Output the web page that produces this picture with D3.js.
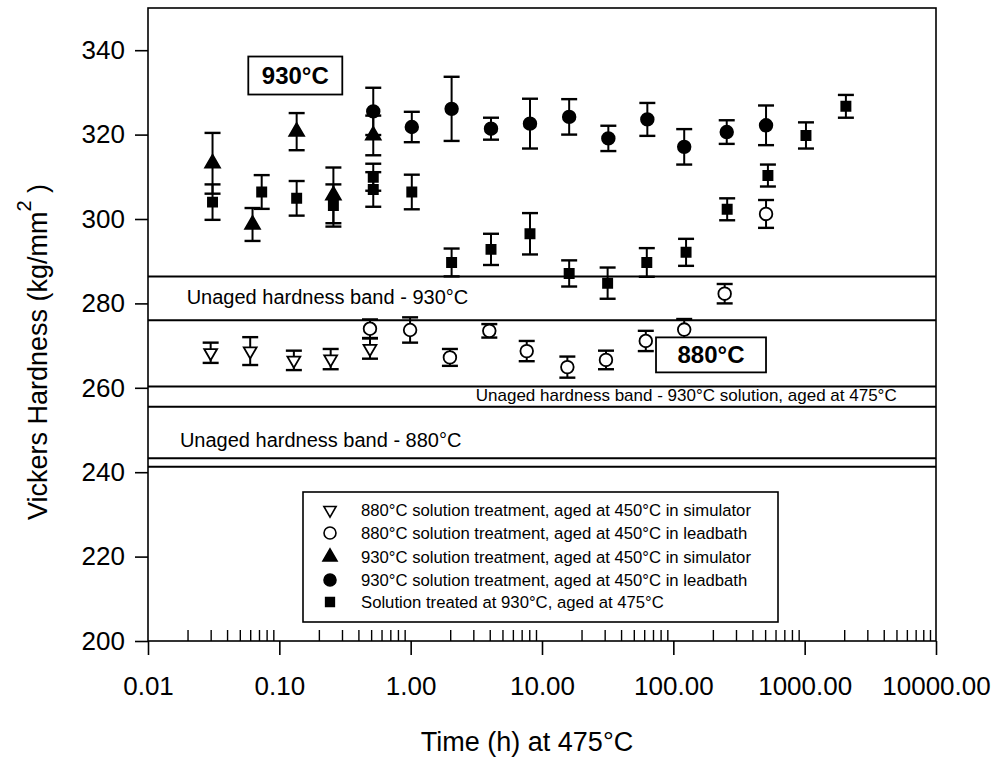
<!DOCTYPE html>
<html>
<head>
<meta charset="utf-8">
<script src="https://cdn.jsdelivr.net/npm/d3@7"></script>
<style>
  html, body { margin: 0; padding: 0; background: #fff; }
  svg { display: block; font-family: "Liberation Sans", Arial, sans-serif; }
</style>
</head>
<body>
<svg id="chart" width="1000" height="760"></svg>
<script>
// ---------------- data ----------------
// 880°C solution treatment, aged at 450°C in simulator (open inverted triangles)
const sim880Time  = [0.030, 0.060, 0.129, 0.246, 0.490];
const sim880Value = [268.3, 268.7, 266.5, 266.8, 269.3];
const sim880Err   = [2.4, 3.3, 2.3, 2.4, 2.4];

// 880°C solution treatment, aged at 450°C in leadbath (open circles)
const lead880Time  = [0.490, 0.99, 1.99, 3.97, 7.65, 15.6, 30.7, 61.7, 121, 246, 508];
const lead880Value = [274.0, 273.7, 267.2, 273.5, 268.7, 264.9, 266.6, 271.1, 273.8, 282.3, 301.2];
const lead880Err   = [2.2, 3.0, 2.0, 1.6, 2.4, 2.5, 2.2, 2.4, 2.5, 2.3, 3.3];

// 930°C solution treatment, aged at 450°C in simulator (filled triangles)
const sim930Time  = [0.0310, 0.0625, 0.1355, 0.258, 0.519];
const sim930Value = [313.2, 298.7, 320.7, 305.6, 319.8];
const sim930Err   = [7.2, 3.9, 4.4, 6.6, 4.7];

// 930°C solution treatment, aged at 450°C in leadbath (filled circles)
const lead930Time  = [0.519, 1.02, 2.05, 4.09, 8.1, 16.1, 32.0, 63.4, 121, 255, 508];
const lead930Value = [325.5, 321.8, 326.1, 321.4, 322.6, 324.2, 319.1, 323.6, 317.1, 320.6, 322.2];
const lead930Err   = [5.6, 3.6, 7.6, 2.6, 5.9, 4.2, 3.0, 3.9, 4.2, 2.8, 4.7];

// Solution treated at 930°C, aged at 475°C (filled squares)
const sq475Time  = [0.0310, 0.0734, 0.1355, 0.258, 0.519, 0.519, 1.02, 2.05, 4.09, 8.1, 16.1, 31.6, 62.8, 125, 257, 525, 1023, 2060];
const sq475Value = [304.0, 306.4, 304.9, 303.2, 309.9, 307.0, 306.4, 289.7, 292.8, 296.5, 287.1, 284.8, 289.7, 292.1, 302.3, 310.3, 319.8, 326.7];
const sq475Err   = [4.2, 4.0, 4.1, 5.0, 3.2, 4.1, 4.1, 3.3, 3.7, 4.9, 3.1, 3.7, 3.4, 3.2, 2.6, 2.6, 3.1, 2.7];

// Unaged hardness band boundaries (kg/mm^2)
const bandLines = [286.4, 276.0, 260.3, 255.5, 243.3, 241.3];
const bandLabels = [
  { text: "Unaged hardness band - 930°C", t: 0.0197, v: 281.0, anchor: "start", size: 20 },
  { text: "Unaged hardness band - 930°C solution, aged at 475°C", t: 5020, v: 257.9, anchor: "end", size: 17 },
  { text: "Unaged hardness band - 880°C", t: 0.0175, v: 247.2, anchor: "start", size: 20 }
];
const tempBoxes = [
  { text: "930°C", t: 0.1323, v: 334.0, w: 94, h: 38 },
  { text: "880°C", t: 193.6, v: 267.8, w: 110, h: 35 }
];

const xTicks = [0.01, 0.1, 1, 10, 100, 1000, 10000];
const yTicks = [200, 220, 240, 260, 280, 300, 320, 340];
const legendLabels = [
  "880°C solution treatment, aged at 450°C in simulator",
  "880°C solution treatment, aged at 450°C in leadbath",
  "930°C solution treatment, aged at 450°C in simulator",
  "930°C solution treatment, aged at 450°C in leadbath",
  "Solution treated at 930°C, aged at 475°C"
];

// ---------------- chart ----------------
const svg = d3.select("#chart");
const L = 148, R = 936, T = 8, B = 641;
const x = d3.scaleLog().domain([0.01, 10000]).range([L, R]);
const y = d3.scaleLinear().domain([200, 350]).range([B, T]);

const series = [
  { t: sim880Time, v: sim880Value, e: sim880Err, type: "triDown", fill: "#fff" },
  { t: lead880Time, v: lead880Value, e: lead880Err, type: "circle", fill: "#fff" },
  { t: sim930Time, v: sim930Value, e: sim930Err, type: "triUp", fill: "#000" },
  { t: lead930Time, v: lead930Value, e: lead930Err, type: "circle", fill: "#000" },
  { t: sq475Time, v: sq475Value, e: sq475Err, type: "square", fill: "#000" }
];
function symPath(type, legend) {
  const k = legend ? 0.9 : 1;
  if (type === "circle") return d3.symbol(d3.symbolCircle, 125 * k)();
  if (type === "square") return d3.symbol(d3.symbolSquare, 84 * k)();
  if (type === "triUp") return d3.symbol(d3.symbolTriangle, 95 * k)();
  return d3.symbol(d3.symbolTriangle, 72 * k)();
}
function symTransform(type, cx, cy) {
  return type === "triDown" ? `translate(${cx},${cy}) rotate(180)` : `translate(${cx},${cy})`;
}

// band lines
svg.append("g").selectAll("line").data(bandLines).join("line")
  .attr("x1", L).attr("x2", R)
  .attr("y1", d => y(d)).attr("y2", d => y(d))
  .attr("stroke", "#000").attr("stroke-width", 2);

// band labels
svg.append("g").selectAll("text").data(bandLabels).join("text")
  .attr("x", d => x(d.t)).attr("y", d => y(d.v))
  .attr("text-anchor", d => d.anchor)
  .attr("dominant-baseline", "middle")
  .attr("font-size", d => d.size)
  .text(d => d.text);

// frame
svg.append("rect").attr("x", L).attr("y", T).attr("width", R - L).attr("height", B - T)
  .attr("fill", "none").attr("stroke", "#000").attr("stroke-width", 1.6);

// x axis: major ticks outward, minor ticks inward
const minor = [];
for (let d = 0.01; d < 10000; d *= 10) for (let m = 2; m <= 9; m++) minor.push(d * m);
const gx = svg.append("g").attr("transform", `translate(0,${B})`)
  .call(d3.axisBottom(x).tickValues(xTicks).tickFormat(d3.format(".2f")).tickSize(14).tickPadding(22));
gx.select(".domain").remove();
gx.selectAll("line").attr("stroke-width", 1.6);
gx.selectAll("text").attr("font-size", 26).attr("font-family", "Liberation Sans, Arial, sans-serif");
const gxm = svg.append("g").attr("transform", `translate(0,${B})`)
  .call(d3.axisBottom(x).tickValues(minor).tickFormat("").tickSize(-11));
gxm.select(".domain").remove();
gxm.selectAll("line").attr("stroke-width", 1.4);

// y axis
const gy = svg.append("g").attr("transform", `translate(${L},0)`)
  .call(d3.axisLeft(y).tickValues(yTicks).tickSize(13).tickPadding(10));
gy.select(".domain").remove();
gy.selectAll("line").attr("stroke-width", 1.6);
gy.selectAll("text").attr("font-size", 26).attr("font-family", "Liberation Sans, Arial, sans-serif");

// axis titles
svg.append("text").attr("x", 527).attr("y", 751).attr("text-anchor", "middle")
  .attr("font-size", 27).text("Time (h) at 475°C");
const yt = svg.append("text").attr("transform", "translate(47,352) rotate(-90)")
  .attr("text-anchor", "middle").attr("font-size", 27);
yt.append("tspan").text("Vickers Hardness (kg/mm");
yt.append("tspan").attr("dy", -16).attr("font-size", 20).text("2");
yt.append("tspan").attr("dy", 16).text(" )");

// error bars
const gErr = svg.append("g").attr("stroke", "#000").attr("stroke-width", 2);
series.forEach(s => {
  s.t.forEach((t, i) => {
    const cx = x(t), y1 = y(s.v[i] + s.e[i]), y2 = y(s.v[i] - s.e[i]);
    gErr.append("line").attr("x1", cx).attr("x2", cx).attr("y1", y1).attr("y2", y2);
    gErr.append("line").attr("x1", cx - 8).attr("x2", cx + 8).attr("y1", y1).attr("y2", y1).attr("stroke-width", 2.4);
    gErr.append("line").attr("x1", cx - 8).attr("x2", cx + 8).attr("y1", y2).attr("y2", y2).attr("stroke-width", 2.4);
  });
});
// markers
series.forEach(s => {
  svg.append("g").selectAll("path").data(s.t.map((t, i) => [t, s.v[i]])).join("path")
    .attr("d", symPath(s.type))
    .attr("transform", d => symTransform(s.type, x(d[0]), y(d[1])))
    .attr("fill", s.fill).attr("stroke", "#000").attr("stroke-width", 1.8);
});

// temperature boxes
tempBoxes.forEach(b => {
  const cx = x(b.t), cy = y(b.v);
  svg.append("rect").attr("x", cx - b.w / 2).attr("y", cy - b.h / 2).attr("width", b.w).attr("height", b.h)
    .attr("fill", "#fff").attr("stroke", "#000").attr("stroke-width", 1.8);
  svg.append("text").attr("x", cx).attr("y", cy).attr("text-anchor", "middle")
    .attr("dominant-baseline", "central").attr("font-size", 24).attr("font-weight", "bold").text(b.text);
});

// legend
const lg = svg.append("g");
lg.append("rect").attr("x", 303).attr("y", 492).attr("width", 475).attr("height", 130)
  .attr("fill", "#fff").attr("stroke", "#000").attr("stroke-width", 1.6);
const rowY = [510, 533, 557, 580, 602];
series.forEach((s, i) => {
  lg.append("path").attr("d", symPath(s.type, true))
    .attr("transform", symTransform(s.type, 330, rowY[i]))
    .attr("fill", s.fill).attr("stroke", "#000").attr("stroke-width", 1.6);
  lg.append("text").attr("x", 361).attr("y", rowY[i]).attr("dominant-baseline", "central")
    .attr("font-size", 16.7).text(legendLabels[i]);
});
</script>
</body>
</html>
